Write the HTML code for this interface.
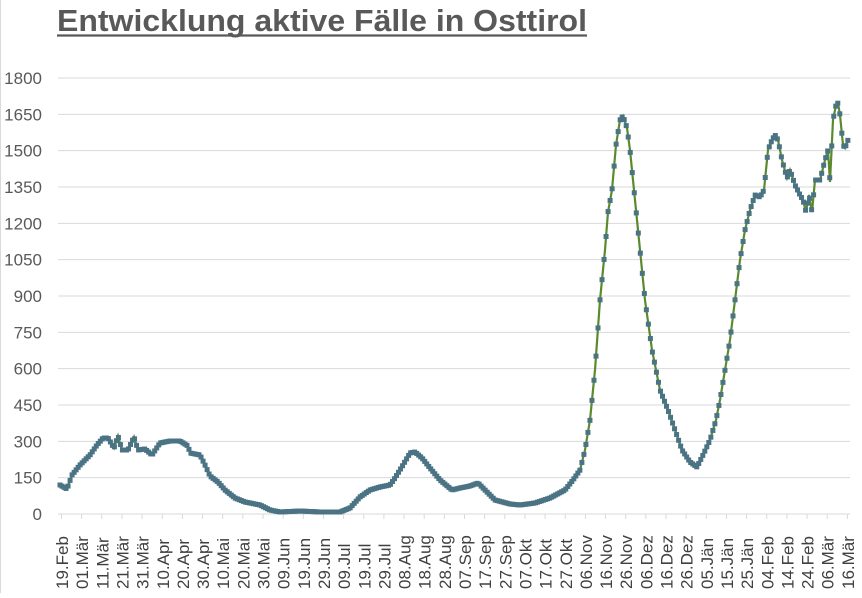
<!DOCTYPE html>
<html><head><meta charset="utf-8"><style>
html,body{margin:0;padding:0;background:#fff;}
body{width:862px;height:593px;overflow:hidden;font-family:"Liberation Sans",sans-serif;}
</style></head><body>
<svg id="s" width="862" height="593" xmlns="http://www.w3.org/2000/svg" font-family="Liberation Sans, sans-serif">
<rect x="0" y="0" width="862" height="593" fill="#fff"/>
<line x1="0.5" y1="0" x2="0.5" y2="593" stroke="#d9d9d9"/>
<text x="57" y="31" font-size="31" font-weight="bold" fill="#595959" textLength="530" lengthAdjust="spacingAndGlyphs">Entwicklung aktive Fälle in Osttirol</text>
<line x1="57" y1="35.5" x2="587" y2="35.5" stroke="#595959" stroke-width="2.2"/>
<g id="grid"></g>
<g id="xl"></g>
<g id="ser"></g>
</svg>
<script>
var NS="http://www.w3.org/2000/svg";
function el(p,t,a,txt){var e=document.createElementNS(NS,t);for(var k in a)e.setAttribute(k,a[k]);if(txt!=null)e.textContent=txt;document.getElementById(p).appendChild(e);return e;}
function Y(v){return 514-v*0.24222;}
for(var v=0;v<=1800;v+=150){var y=Y(v);
 if(v>0)el('grid','line',{x1:58,x2:850,y1:y,y2:y,stroke:'#d9d9d9','stroke-width':1});
 el('grid','text',{x:42,y:y+6,'text-anchor':'end','font-size':17,fill:'#595959'},v);}
el('grid','line',{x1:58,x2:850,y1:514,y2:514,stroke:'#d9d9d9','stroke-width':1});
var labs="19.Feb 01.Mär 11.Mär 21.Mär 31.Mär 10.Apr 20.Apr 30.Apr 10.Mai 20.Mai 30.Mai 09.Jun 19.Jun 29.Jun 09.Jul 19.Jul 29.Jul 08.Aug 18.Aug 28.Aug 07.Sep 17.Sep 27.Sep 07.Okt 17.Okt 27.Okt 06.Nov 16.Nov 26.Nov 06.Dez 16.Dez 26.Dez 05.Jän 15.Jän 25.Jän 04.Feb 14.Feb 24.Feb 06.Mär 16.Mär".split(" ");
for(var i=0;i<labs.length;i++){var x=61.5+i*20.15;
 el('xl','line',{x1:x,x2:x,y1:514,y2:519,stroke:'#d9d9d9'});
 el('xl','text',{transform:'translate('+(x+6.5)+',589) rotate(-90)','font-size':17,fill:'#404040'},labs[i]);}
var P=[[60,485],[67,489],[72,475],[80,465],[90,455],[97,445],[103,438],[108,438],[114,448],[118,436],[122,450],[128,450],[134,437],[138,450],[145,449],[152,455],[160,443],[170,441],[180,441],[188,446],[190,453],[200,455],[205,465],[210,476],[218,482],[225,490],[235,498],[245,502],[260,505],[270,510],[280,512],[300,511],[320,512],[340,512],[350,508],[360,497],[370,490],[380,487],[390,485],[395,478],[403,465],[410,453],[415,452],[422,458],[430,468],[440,480],[452,490],[460,488],[470,486],[478,483],[485,490],[495,500],[510,504],[520,505],[535,503],[550,498],[565,490],[573,480],[580,470],[585,450],[590,420],[595,370],[600,300],[605,250],[608,212],[612,190],[616,145],[620,120],[623,116],[627,128],[630,150],[634,190],[638,230],[645,300],[652,350],[660,390],[668,410],[675,430],[682,450],[690,462],[697,467],[703,455],[710,440],[716,420],[720,400],[725,370],[730,340],[735,300],[740,260],[745,230],[750,210],[755,195],[760,197],[764,190],[768,150],[772,140],[775,135],[778,140],[782,160],[787,178],[790,170],[795,185],[800,195],[803,200],[806,212],[809,195],[812,212],[815,180],[820,180],[825,160],[828,150],[830,182],[833,120],[836,105],[838,103],[840,115],[843,145],[845,148],[848,140]];
var d="M"+P.map(function(p){return p[0]+","+p[1];}).join(" L");
el('ser','path',{d:d,fill:'none',stroke:'#5b8a2e','stroke-width':2.2});
var j=0;for(var x=60;x<=848;x+=2.015){while(j<P.length-2&&P[j+1][0]<x)j++;
 var a=P[j],b=P[j+1],t=(x-a[0])/(b[0]-a[0]);t=Math.max(0,Math.min(1,t));var y=a[1]+(b[1]-a[1])*t;
 el('ser','rect',{x:x-2.5,y:y-2.5,width:5,height:5,fill:'#4a7384'});}
</script>
</body></html>
